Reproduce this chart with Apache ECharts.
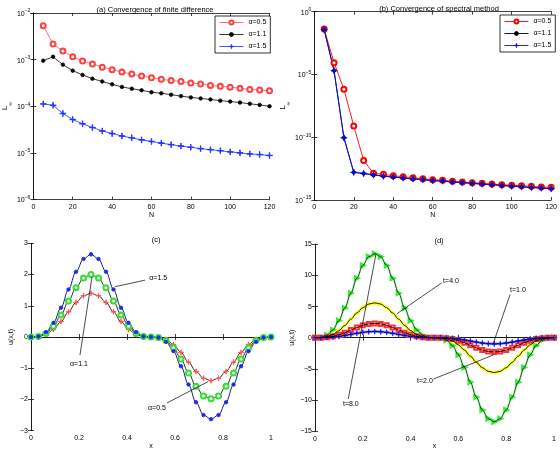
<!DOCTYPE html>
<html><head><meta charset="utf-8">
<script src="https://cdn.jsdelivr.net/npm/echarts@6/dist/echarts.min.js"></script>
<style>html,body{margin:0;padding:0;background:#fff}#c{width:560px;height:451px}</style>
</head><body><div id="c"></div>
<script>
// ---------- data ----------
const N = [5,10,15,20,25,30,35,40,45,50,55,60,65,70,75,80,85,90,95,100,105,110,115,120];
// (a) finite difference errors
const fd05 = [5.3e-3,2.16e-3,1.53e-3,1.15e-3,9.3e-4,8.1e-4,6.9e-4,6.1e-4,5.4e-4,4.9e-4,4.45e-4,4.1e-4,3.8e-4,3.55e-4,3.4e-4,3.17e-4,3.0e-4,2.8e-4,2.7e-4,2.57e-4,2.42e-4,2.3e-4,2.23e-4,2.15e-4];
const fd11 = [9.5e-4,1.15e-3,7.8e-4,5.8e-4,4.7e-4,3.9e-4,3.4e-4,2.95e-4,2.6e-4,2.38e-4,2.2e-4,2.0e-4,1.9e-4,1.77e-4,1.65e-4,1.55e-4,1.47e-4,1.4e-4,1.32e-4,1.26e-4,1.2e-4,1.13e-4,1.07e-4,1.0e-4];
const fd15 = [1.12e-4,1.05e-4,7.0e-5,5.2e-5,4.2e-5,3.5e-5,2.95e-5,2.6e-5,2.3e-5,2.1e-5,1.9e-5,1.76e-5,1.62e-5,1.5e-5,1.4e-5,1.32e-5,1.23e-5,1.17e-5,1.11e-5,1.05e-5,1.0e-5,9.5e-6,9.2e-6,8.8e-6];
// (b) spectral method errors
const sp05 = [4.2e-2,8.7e-5,6.6e-7,7.9e-10,1.4e-12,1.35e-13,1.1e-13,8.5e-14,7.1e-14,5.9e-14,5.0e-14,4.1e-14,3.7e-14,3.1e-14,2.7e-14,2.35e-14,2.15e-14,1.86e-14,1.66e-14,1.48e-14,1.38e-14,1.23e-14,1.07e-14,1.02e-14];
const sp11 = [3.7e-2,2.0e-5,9.1e-11,1.6e-13,1.3e-13,1.0e-13,7.9e-14,6.8e-14,5.6e-14,4.8e-14,4.2e-14,3.5e-14,3.2e-14,2.7e-14,2.4e-14,2.1e-14,1.86e-14,1.62e-14,1.45e-14,1.26e-14,1.12e-14,1.0e-14,8.9e-15,7.9e-15];
const sp15 = [3.7e-2,2.0e-5,9.1e-11,1.6e-13,1.3e-13,1.0e-13,7.9e-14,6.8e-14,5.6e-14,4.8e-14,4.2e-14,3.5e-14,3.2e-14,2.7e-14,2.4e-14,2.1e-14,1.86e-14,1.62e-14,1.45e-14,1.26e-14,1.12e-14,1.0e-14,8.9e-15,7.9e-15];
// (c) solution profiles for different alpha
const xc = [0,0.03125,0.0625,0.09375,0.125,0.15625,0.1875,0.21875,0.25,0.28125,0.3125,0.34375,0.375,0.40625,0.4375,0.46875,0.5,0.53125,0.5625,0.59375,0.625,0.65625,0.6875,0.71875,0.75,0.78125,0.8125,0.84375,0.875,0.90625,0.9375,0.96875,1];
const uc15 = [0,0.02,0.149,0.454,0.937,1.523,2.09,2.5,2.65,2.5,2.09,1.523,0.937,0.454,0.149,0.02,0,-0.02,-0.149,-0.454,-0.937,-1.523,-2.09,-2.5,-2.63,-2.5,-2.09,-1.523,-0.937,-0.454,-0.149,-0.02,0];
const uc11 = [0,0.015,0.112,0.343,0.707,1.15,1.577,1.887,2.0,1.887,1.577,1.15,0.707,0.343,0.112,0.015,0,-0.015,-0.112,-0.343,-0.707,-1.15,-1.577,-1.887,-1.98,-1.887,-1.577,-1.15,-0.707,-0.343,-0.112,-0.015,0];
const uc05 = [0,0.01,0.078,0.24,0.495,0.805,1.104,1.321,1.4,1.321,1.104,0.805,0.495,0.24,0.078,0.01,0,-0.01,-0.078,-0.24,-0.495,-0.805,-1.104,-1.321,-1.4,-1.321,-1.104,-0.805,-0.495,-0.24,-0.078,-0.01,0];
// (d) solution profiles for different t
const xd = [0,0.025,0.05,0.075,0.1,0.125,0.15,0.175,0.2,0.225,0.25,0.275,0.3,0.325,0.35,0.375,0.4,0.425,0.45,0.475,0.5,0.525,0.55,0.575,0.6,0.625,0.65,0.675,0.7,0.725,0.75,0.775,0.8,0.825,0.85,0.875,0.9,0.925,0.95,0.975,1];
const ud8 = [0,0.05,0.4,1.26,2.74,4.77,7.15,9.55,11.61,13.01,13.5,13.01,11.61,9.55,7.15,4.77,2.74,1.26,0.4,0.05,0,-0.05,-0.4,-1.26,-2.74,-4.77,-7.15,-9.55,-11.61,-13.01,-13.5,-13.01,-11.61,-9.55,-7.15,-4.77,-2.74,-1.26,-0.4,-0.05,0];
const ud4 = [0,0.02,0.17,0.52,1.14,1.98,2.97,3.96,4.82,5.4,5.6,5.4,4.82,3.96,2.97,1.98,1.14,0.52,0.17,0.02,0,-0.02,-0.17,-0.52,-1.14,-1.98,-2.97,-3.96,-4.82,-5.4,-5.6,-5.4,-4.82,-3.96,-2.97,-1.98,-1.14,-0.52,-0.17,-0.02,0];
const ud2 = [0,0.01,0.07,0.22,0.47,0.81,1.22,1.63,1.98,2.22,2.3,2.22,1.98,1.63,1.22,0.81,0.47,0.22,0.07,0.01,0,-0.01,-0.07,-0.22,-0.47,-0.81,-1.22,-1.63,-1.98,-2.22,-2.3,-2.22,-1.98,-1.63,-1.22,-0.81,-0.47,-0.22,-0.07,-0.01,0];
const ud1 = [0,0,0.03,0.09,0.2,0.35,0.53,0.71,0.86,0.96,1.0,0.96,0.86,0.71,0.53,0.35,0.2,0.09,0.03,0,0,0,-0.03,-0.09,-0.2,-0.35,-0.53,-0.71,-0.86,-0.96,-1.0,-0.96,-0.86,-0.71,-0.53,-0.35,-0.2,-0.09,-0.03,0,0];
// labels
const titles = ['(a) Convergence of finite difference','(b) Convergence of spectral method','(c)','(d)'];
const alphaLabels = ['α=0.5','α=1.1','α=1.5'];
// annotations (text, text position, arrow start, arrow end) in data units
const annC = [
  {t:'α=1.5', at:[0.53,1.89], from:[0.475,1.82], to:[0.35,1.61]},
  {t:'α=1.1', at:[0.20,-0.87], from:[0.204,-0.58], to:[0.254,1.92]},
  {t:'α=0.5', at:[0.525,-2.27], from:[0.567,-2.11], to:[0.7375,-1.43]}
];
const annD = [
  {t:'t=4.0', at:[0.569,9.14], from:[0.53,8.8], to:[0.342,3.83]},
  {t:'t=1.0', at:[0.849,7.7], from:[0.816,6.9], to:[0.746,-0.9]},
  {t:'t=2.0', at:[0.46,-7.0], from:[0.495,-6.65], to:[0.746,-2.78]},
  {t:'t=8.0', at:[0.15,-10.6], from:[0.139,-9.85], to:[0.255,13.4]}
];

// ---------- helpers ----------
const FONT = "'Liberation Sans', Arial, sans-serif";
const FS = 7;
const pair = (xs, ys) => xs.map((x,i)=>[x, ys[i]]);
const minus = v => (v < 0 ? '\u2212' + (-v) : String(v));
const logFmt = v => '{b|10}{s|' + minus(Math.round(Math.log10(v))) + '}';
const logRich = { b:{fontSize:FS, fontFamily:FONT, color:'#000', verticalAlign:'bottom', lineHeight:9},
                  s:{fontSize:5, fontFamily:FONT, color:'#000', verticalAlign:'top', lineHeight:9} };
const PLUS = 'path://M0,4.55H10V5.45H0Z M4.55,0H5.45V10H4.55Z';

const grids = [
  {left:31, top:13, width:238.5, height:186.5},
  {left:314.3, top:11.7, width:239, height:188.3},
  {left:31, top:243.3, width:240, height:187.4},
  {left:315, top:244.3, width:239, height:188}
];

const axLine = {show:true, lineStyle:{color:'#111', width:0.8}};
const axTick = {show:true, inside:true, length:3, lineStyle:{color:'#111', width:0.8}};
const xAxes = [], yAxes = [];
function addX(g, min, max, interval, fmt, name) {
  xAxes.push({type:'value', gridIndex:g, min, max, interval, position:'bottom',
    axisLine:axLine, axisTick:axTick, splitLine:{show:false},
    axisLabel:{fontSize:FS, fontFamily:FONT, color:'#000', margin:4, formatter:fmt},
    name, nameLocation:'middle', nameGap:11, nameTextStyle:{fontSize:FS, fontFamily:FONT, color:'#000'}});
  xAxes.push({type:'value', gridIndex:g, min, max, interval, position:'top',
    axisLine:axLine, axisTick:axTick, splitLine:{show:false}, axisLabel:{show:false}});
}
function addY(g, type, min, max, interval, fmt, name, gap, rich, nameRich) {
  const base = {type, gridIndex:g, min, max, interval, splitLine:{show:false},
    axisLine:axLine, axisTick:axTick};
  if (type === 'log') base.logBase = 10;
  yAxes.push(Object.assign({}, base, {position:'left',
    axisLabel:{fontSize:FS, fontFamily:FONT, color:'#000', margin:3, formatter:fmt, rich},
    name, nameLocation:'middle', nameGap:gap, nameRotate:90,
    nameTextStyle:{fontSize:FS, fontFamily:FONT, color:'#000', rich:nameRich}}));
  yAxes.push(Object.assign({}, base, {position:'right', axisLabel:{show:false}}));
}
const nameRichL = { L:{fontSize:8, fontFamily:FONT, color:'#000', verticalAlign:'top', lineHeight:12},
                    i:{fontSize:5, fontFamily:FONT, color:'#000', verticalAlign:'bottom', lineHeight:12} };
addX(0, 0, 120, 20, v=>String(v), 'N');
addY(0, 'log', 1e-6, 1e-2, 1, logFmt, '{L|L}{i|\u221e}', 20, logRich, nameRichL);
addX(1, 0, 120, 20, v=>String(v), 'N');
addY(1, 'log', 1e-15, 1, 5, logFmt, '{L|L}{i|\u221e}', 22, logRich, nameRichL);
addX(2, 0, 1, 0.2, v=>String(+v.toFixed(1)), 'x');
addY(2, 'value', -3, 3, 1, minus, 'u(x,t)', 16);
addX(3, 0, 1, 0.2, v=>String(+v.toFixed(1)), 'x');
addY(3, 'value', -15, 15, 5, minus, 'u(x,t)', 19);

function ser(p, name, data, lineColor, sym, size, markColor, extra) {
  return Object.assign({type:'line', name, xAxisIndex:2*p, yAxisIndex:2*p, data,
    symbol:sym, symbolSize:size, showSymbol:true, animation:false,
    lineStyle:{color:lineColor, width:0.9},
    itemStyle:{color:markColor, borderColor:markColor, borderWidth:0.8}, z:3}, extra||{});
}
const SM = {smooth:0.35, smoothMonotone:'x'};
function annot(list) {
  return {
    markLine:{silent:true, animation:false, symbol:['none','arrow'], symbolSize:[0,6],
      lineStyle:{color:'#000', width:0.7, type:'solid'}, label:{show:false},
      data:list.map(a=>[{coord:a.from},{coord:a.to}])},
    markPoint:{silent:true, animation:false,
      data:list.map(a=>({name:a.t, coord:a.at, symbol:'rect', symbolSize:1,
        itemStyle:{color:'rgba(0,0,0,0)'},
        label:{show:true, position:'inside', formatter:'{b}', color:'#000', fontSize:FS, fontFamily:FONT}}))}
  };
}
// panel (d): a light wide band with markers, then the exact solution as a thin dark line
function bandSer(name, data, bandColor, sym, size, markColor, extra) {
  return ser(3, name, data, bandColor, sym, size, markColor,
    Object.assign({}, SM, {lineStyle:{color:bandColor, width:3}, z:2}, extra||{}));
}
function darkLine(name, data, color, extra) {
  return Object.assign({type:'line', name, xAxisIndex:6, yAxisIndex:6, data, symbol:'none',
    animation:false, lineStyle:{color, width:0.9}, z:4}, SM, extra||{});
}

const series = [
  ser(0,'a05', pair(N,fd05), '#ff6060', 'emptyCircle', 5, '#ff4040'),
  ser(0,'a11', pair(N,fd11), '#222', 'circle', 3.5, '#000'),
  ser(0,'a15', pair(N,fd15), '#3545ff', PLUS, 6, '#2030ff'),
  ser(1,'b05', pair(N,sp05), '#ff0000', 'emptyCircle', 5, '#ff0000'),
  ser(1,'b11', pair(N,sp11), '#000', 'circle', 3.5, '#000'),
  ser(1,'b15', pair(N,sp15), '#0010ee', PLUS, 6, '#0010ee'),
  ser(2,'c05', pair(xc,uc05), '#5a0000', PLUS, 5, '#ff5050', SM),
  ser(2,'c11', pair(xc,uc11), '#002200', 'emptyCircle', 5, '#33dd33', SM),
  ser(2,'c15', pair(xc,uc15), '#000066', 'circle', 3.5, '#1a2aee', Object.assign({}, SM, annot(annC))),
  bandSer('d8', pair(xd,ud8), 'rgba(120,255,120,0.35)', 'emptyTriangle', 4, '#33ee33', {symbolRotate:-90}),
  bandSer('d4', pair(xd,ud4), '#ffff40', 'circle', 4, '#ffff30'),
  bandSer('d2', pair(xd,ud2), '#ffa0a0', 'emptyRect', 4, '#ff3030'),
  bandSer('d1', pair(xd,ud1), '#a8a8ff', PLUS, 5, '#2020ff'),
  darkLine('d8l', pair(xd,ud8), '#003300'),
  darkLine('d4l', pair(xd,ud4), '#000'),
  darkLine('d2l', pair(xd,ud2), '#000'),
  darkLine('d1l', pair(xd,ud1), '#000066', annot(annD))
];

const legendMap = {a05:alphaLabels[0], a11:alphaLabels[1], a15:alphaLabels[2],
                   b05:alphaLabels[0], b11:alphaLabels[1], b15:alphaLabels[2]};
const legendBase = {orient:'vertical', itemWidth:24, itemHeight:5, itemGap:5,
  borderColor:'#000', borderWidth:0.8, backgroundColor:'#fff', padding:[3,4,3,4],
  lineStyle:{width:0.9}, itemStyle:{borderWidth:0.8},
  textStyle:{fontSize:FS, fontFamily:FONT, color:'#000'}, formatter:n=>legendMap[n], selectedMode:false};

const option = {
  animation:false,
  backgroundColor:'#fff',
  title:[
    {text:titles[0], left:150, top:1, textAlign:'center'},
    {text:titles[1], left:434, top:0, textAlign:'center'},
    {text:titles[2], left:151, top:231, textAlign:'center'},
    {text:titles[3], left:434, top:232, textAlign:'center'}
  ].map(t=>Object.assign(t,{textStyle:{fontSize:7.5, fontWeight:'normal', fontFamily:FONT, color:'#000'}})),
  grid:grids,
  xAxis:xAxes,
  yAxis:yAxes,
  legend:[
    Object.assign({}, legendBase, {data:['a05','a11','a15'], left:215, top:16}),
    Object.assign({}, legendBase, {data:['b05','b11','b15'], left:500, top:15})
  ],
  series
};
const chart = echarts.init(document.getElementById('c'), null, {renderer:'canvas'});
chart.setOption(option);
</script></body></html>
